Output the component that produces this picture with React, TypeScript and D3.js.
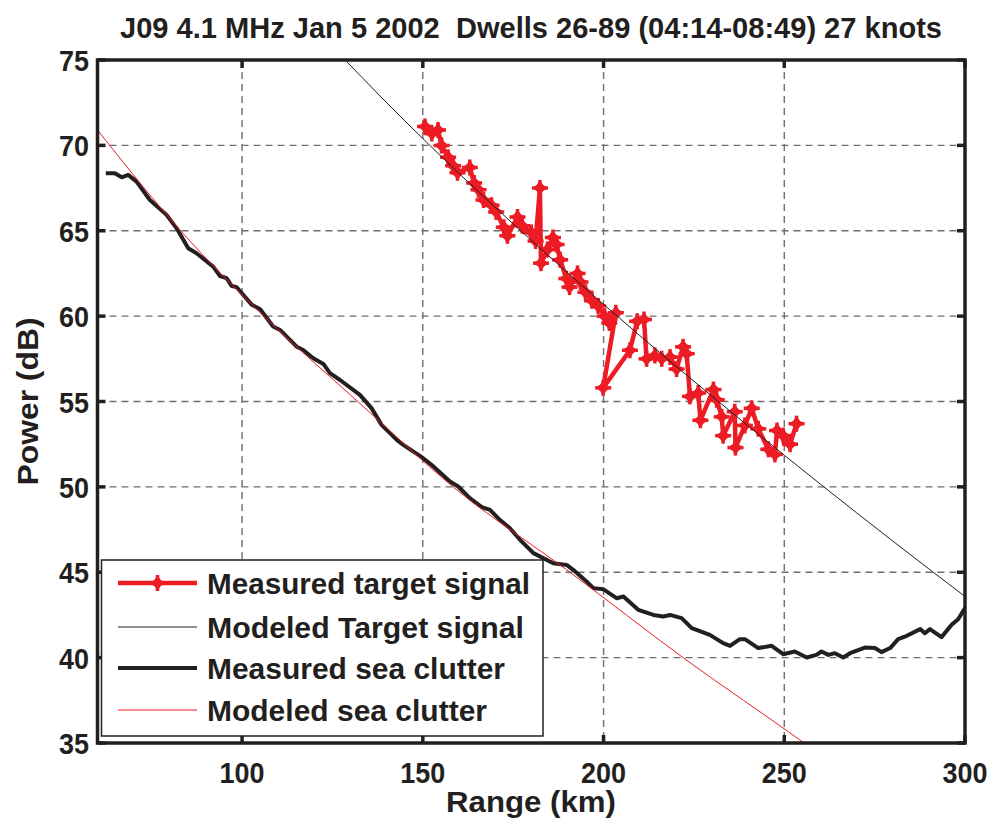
import React from "react";
import * as d3 from "d3";

const W = 993;
const H = 823;

const title = "J09 4.1 MHz Jan 5 2002  Dwells 26-89 (04:14-08:49) 27 knots";
const xLabel = "Range (km)";
const yLabel = "Power (dB)";
const xTicks = [100, 150, 200, 250, 300];
const yTicks = [35, 40, 45, 50, 55, 60, 65, 70, 75];
const legendLabels = [
  "Measured target signal",
  "Modeled Target signal",
  "Measured sea clutter",
  "Modeled sea clutter",
];

// Measured target signal (red, markers)
const targetRange = [
  150.6, 152.5, 154.2, 155.2, 157.0, 158.4, 159.6, 163.0, 164.2, 165.4,
  166.8, 169.0, 170.3, 172.4, 173.4, 176.2, 177.5, 180.0, 181.2, 182.4,
  182.7, 184.5, 186.0, 187.0, 188.0, 189.7, 190.6, 192.8, 193.6, 195.0,
  196.8, 198.5, 200.3, 201.6, 203.4, 199.9, 207.3, 209.3, 211.2, 211.9,
  214.2, 216.1, 218.4, 220.2, 222.0, 223.0, 223.9, 226.2, 226.8, 230.4,
  231.3, 232.7, 233.1, 236.3, 236.5, 239.1, 241.0, 242.8, 245.6, 247.4,
  248.0, 249.7, 251.6, 253.4,
];
const targetDb = [
  71.1, 70.7, 70.9, 70.0, 69.3, 68.8, 68.4, 68.7, 67.8, 67.4,
  66.8, 66.5, 66.1, 65.2, 64.7, 65.8, 65.3, 64.9, 64.4, 67.5,
  63.1, 63.9, 64.6, 64.2, 63.3, 62.2, 61.7, 62.5, 62.0, 61.4,
  60.9, 60.6, 60.0, 59.6, 60.2, 55.8, 58.0, 59.7, 59.8, 57.5,
  57.7, 57.5, 57.6, 56.9, 58.2, 57.8, 55.3, 55.5, 53.9, 55.7,
  55.1, 54.1, 53.0, 54.4, 52.3, 53.6, 54.6, 53.4, 52.2, 51.9,
  53.3, 53.0, 52.5, 53.7,
];

// Modeled target signal (thin black)
const modelTargetRange = [125, 140, 160, 180, 200, 220, 240, 260, 280, 300];
const modelTargetDb = [75.78, 72.5, 68.36, 64.44, 60.69, 57.07, 53.57, 50.16, 46.83, 43.58];

// Measured sea clutter (thick black)
const clutterRange = [
  62.3, 64.8, 66.7, 68.5, 70.8, 74.5, 79.1, 81.9, 85.1, 87.4,
  92.0, 93.9, 95.7, 97.1, 98.5, 102.7, 105.0, 108.6, 110.5, 115.1,
  116.9, 119.7, 122.5, 124.3, 127.1, 132.6, 135.8, 138.6, 142.8, 144.6,
  150.1, 152.4, 157.5, 159.8, 163.0, 166.3, 168.6, 171.3, 174.1, 176.9,
  180.6, 186.1, 189.8, 191.6, 195.3, 197.2, 199.9, 203.6, 205.5, 209.6,
  213.8, 216.5, 218.4, 221.6, 224.4, 229.4, 233.1, 235.0, 237.7, 239.1,
  242.8, 246.5, 249.7, 252.9, 256.2, 258.9, 260.3, 262.2, 264.0, 266.3,
  268.2, 272.3, 275.1, 276.9, 279.3, 281.5, 283.9, 287.6, 288.9, 290.3,
  293.5, 296.3, 298.1, 300,
];
const clutterDb = [
  68.37, 68.37, 68.13, 68.27, 67.88, 66.8, 65.93, 65.14, 63.97, 63.68,
  62.9, 62.35, 62.22, 61.77, 61.69, 60.66, 60.4, 59.39, 59.19, 58.21,
  58.02, 57.53, 57.2, 56.66, 56.26, 55.39, 54.61, 53.63, 52.75, 52.46,
  51.68, 51.29, 50.31, 50.02, 49.34, 48.81, 48.65, 48.07, 47.58, 46.9,
  46.12, 45.53, 45.43, 45.14, 44.46, 44.07, 44.01, 43.48, 43.58, 42.8,
  42.5, 42.41, 42.5, 42.31, 41.73, 41.33, 40.85, 40.69, 41.08, 41.08,
  40.56, 40.69, 40.2, 40.36, 40.01, 40.16, 40.36, 40.16, 40.26, 40.01,
  40.26, 40.59, 40.56, 40.32, 40.56, 41.08, 41.28, 41.67, 41.43, 41.67,
  41.2, 41.92, 42.25, 42.9,
];

// Modeled sea clutter (thin red)
const modelClutterRange = [60, 83, 106, 132, 158.4, 190.7, 222, 255.5, 262];
const modelClutterDb = [70.9, 65, 60, 55, 50, 45, 40, 35, 34.0];

const RED = "#ed1c24";
const BLACK = "#231f20";
const FONT = "'Liberation Sans', Arial, Helvetica, sans-serif";

const margin = { left: 97.5, right: 965, top: 60, bottom: 743 };

export default function App() {
  const x = d3.scaleLinear().domain([60, 300]).range([margin.left, margin.right]);
  const y = d3.scaleLinear().domain([35, 75]).range([margin.bottom, margin.top]);

  const line = d3
    .line<[number, number]>()
    .x((d) => x(d[0]))
    .y((d) => y(d[1]));

  const zip = (a: number[], b: number[]) => a.map((v, i) => [v, b[i]] as [number, number]);

  const target = zip(targetRange, targetDb);
  const modelTarget = zip(modelTargetRange, modelTargetDb);
  const clutter = zip(clutterRange, clutterDb);
  const modelClutter = zip(modelClutterRange, modelClutterDb);

  const marker = (cx: number, cy: number, key: number | string) => (
    <g key={key} transform={`translate(${cx},${cy})`}>
      <path d="M0,-8 L5,0 L0,8 L-5,0 Z" fill={RED} />
      <path d="M-8,0 L0,-5 L8,0 L0,5 Z" fill={RED} />
      <line x1={-8} x2={8} y1={0} y2={0} stroke={RED} strokeWidth={3.5} />
      <line x1={0} x2={0} y1={-8} y2={8} stroke={RED} strokeWidth={3.5} />
    </g>
  );

  const pw = margin.right - margin.left;
  const ph = margin.bottom - margin.top;

  const legendX0 = 101.5;
  const legendY0 = 560;
  const legendW = 441.5;
  const legendH = 176;
  const legendRows = [583, 627, 668, 710];
  const legendTextW = [323, 317, 298, 280];

  return (
    <svg width={W} height={H} style={{ display: "block", position: "absolute", left: 0, top: 0 }} fontFamily={FONT}>
      <rect x={0} y={0} width={W} height={H} fill="#fff" />
      <defs>
        <clipPath id="plotClip">
          <rect x={margin.left} y={margin.top} width={pw} height={ph} />
        </clipPath>
      </defs>

      {/* grid */}
      <g stroke="#6d6e71" strokeWidth={1.4} strokeDasharray="7,5">
        {xTicks.filter((t) => t < 300).map((t) => (
          <line key={"gx" + t} x1={x(t)} x2={x(t)} y1={margin.top} y2={margin.bottom} />
        ))}
        {yTicks.filter((t) => t > 35 && t < 75).map((t) => (
          <line key={"gy" + t} x1={margin.left} x2={margin.right} y1={y(t)} y2={y(t)} />
        ))}
      </g>

      {/* data */}
      <g clipPath="url(#plotClip)">
        <path d={line(target) || ""} fill="none" stroke={RED} strokeWidth={4.5} strokeLinejoin="round" />
        {target.map((d, i) => marker(x(d[0]), y(d[1]), i))}
        <path d={line.curve(d3.curveMonotoneX)(modelTarget) || ""} fill="none" stroke={BLACK} strokeWidth={1} />
        <path d={line.curve(d3.curveLinear)(clutter) || ""} fill="none" stroke={BLACK} strokeWidth={4} strokeLinejoin="round" />
        <path d={line.curve(d3.curveMonotoneX)(modelClutter) || ""} fill="none" stroke={RED} strokeWidth={1} />
      </g>

      {/* axes box */}
      <rect x={margin.left} y={margin.top} width={pw} height={ph} fill="none" stroke={BLACK} strokeWidth={3.5} />
      {/* ticks */}
      <g stroke={BLACK} strokeWidth={3.5}>
        {xTicks.map((t) => (
          <g key={"tx" + t}>
            <line x1={x(t)} x2={x(t)} y1={margin.bottom} y2={margin.bottom - 8} />
            <line x1={x(t)} x2={x(t)} y1={margin.top} y2={margin.top + 8} />
          </g>
        ))}
        {yTicks.map((t) => (
          <g key={"ty" + t}>
            <line x1={margin.left} x2={margin.left + 8} y1={y(t)} y2={y(t)} />
            <line x1={margin.right} x2={margin.right - 8} y1={y(t)} y2={y(t)} />
          </g>
        ))}
      </g>

      {/* tick labels */}
      <g fill={BLACK} fontWeight="bold" fontSize={30}>
        {xTicks.map((t) => (
          <text key={"lx" + t} x={x(t)} y={783} textAnchor="middle" textLength={45} lengthAdjust="spacingAndGlyphs">
            {t}
          </text>
        ))}
        {yTicks.map((t) => (
          <text key={"ly" + t} x={89} y={y(t) + 11} textAnchor="end" textLength={30} lengthAdjust="spacingAndGlyphs">
            {t}
          </text>
        ))}
      </g>

      {/* title & axis labels */}
      <text x={531} y={38} textAnchor="middle" fontWeight="bold" fontSize={29} fill={BLACK} textLength={822} lengthAdjust="spacingAndGlyphs" style={{ whiteSpace: "pre" }}>
        {title}
      </text>
      <text x={531} y={812} textAnchor="middle" fontWeight="bold" fontSize={29} fill={BLACK} textLength={170} lengthAdjust="spacingAndGlyphs">
        {xLabel}
      </text>
      <text transform={`translate(38,${(margin.top + margin.bottom) / 2}) rotate(-90)`} textAnchor="middle" fontWeight="bold" fontSize={29} fill={BLACK} textLength={168} lengthAdjust="spacingAndGlyphs">
        {yLabel}
      </text>

      {/* legend */}
      <g>
        <rect x={legendX0} y={legendY0} width={legendW} height={legendH} fill="#fff" stroke={BLACK} strokeWidth={1.5} />
        <line x1={118} x2={197} y1={legendRows[0]} y2={legendRows[0]} stroke={RED} strokeWidth={4.5} />
        {marker(157.5, legendRows[0], "lm")}
        <line x1={118} x2={197} y1={legendRows[1]} y2={legendRows[1]} stroke={BLACK} strokeWidth={1} />
        <line x1={118} x2={197} y1={legendRows[2]} y2={legendRows[2]} stroke={BLACK} strokeWidth={4} />
        <line x1={118} x2={197} y1={legendRows[3]} y2={legendRows[3]} stroke={RED} strokeWidth={1} />
        {legendLabels.map((l, i) => (
          <text key={l} x={207} y={legendRows[i] + 11} fontWeight="bold" fontSize={29.5} fill={BLACK} textLength={legendTextW[i]} lengthAdjust="spacingAndGlyphs">
            {l}
          </text>
        ))}
      </g>
    </svg>
  );
}
